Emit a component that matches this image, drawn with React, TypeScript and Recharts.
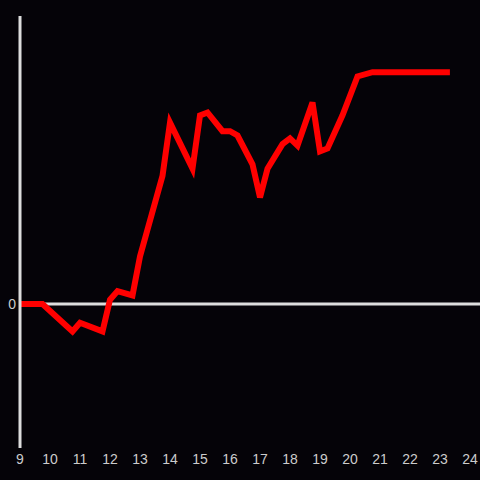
import { LineChart, Line, XAxis, YAxis, ReferenceLine } from "recharts"

const BG = "#050308"
const AXIS = "#dddddd"
const RED = "#ff0000"

// hours of the day and the value at each one
const hours = [9, 9.75, 10.75, 11, 11.75, 12, 12.25, 12.75, 13, 13.75, 14, 14.75, 15, 15.25, 15.75, 16, 16.25, 16.75, 17, 17.25, 17.75, 18, 18.25, 18.75, 19, 19.25, 19.75, 20.25, 20.75, 23.33]
const values = [0, 0, -0.19, -0.13, -0.19, 0.03, 0.09, 0.06, 0.33, 0.89, 1.26, 0.94, 1.31, 1.33, 1.2, 1.2, 1.17, 0.97, 0.74, 0.94, 1.11, 1.15, 1.1, 1.4, 1.06, 1.08, 1.31, 1.58, 1.61, 1.61]
const xTicks = [9, 10, 11, 12, 13, 14, 15, 16, 17, 18, 19, 20, 21, 22, 23, 24]
const yTicks = [0]

const data = hours.map((h, i) => ({ h, v: values[i] }))

export default function App() {
  return (
    <div style={{ position: "fixed", top: 0, left: 0, width: 480, height: 480, background: BG }}>
      <LineChart width={480} height={480} data={data} margin={{ top: 16, right: 0, left: 0, bottom: 0 }}>
        <XAxis
          dataKey="h"
          type="number"
          domain={[9, 73 / 3]}
          ticks={xTicks}
          axisLine={false}
          tickLine={false}
          tickSize={0}
          tickMargin={6}
          height={32}
          allowDataOverflow
          tick={{ fill: "#cccccc", fontSize: 14, fontFamily: "Liberation Sans" }}
        />
        <YAxis
          domain={[-1, 2]}
          ticks={yTicks}
          width={20}
          tickLine={false}
          tickSize={2}
          tickMargin={2}
          axisLine={{ stroke: AXIS, strokeWidth: 3 }}
          tick={{ fill: "#cccccc", fontSize: 14, fontFamily: "Liberation Sans" }}
        />
        <ReferenceLine y={0} stroke={AXIS} strokeWidth={3} />
        <Line
          dataKey="v"
          stroke={RED}
          strokeWidth={6}
          dot={false}
          type="linear"
          strokeLinejoin="miter"
          isAnimationActive={false}
        />
      </LineChart>
    </div>
  )
}
